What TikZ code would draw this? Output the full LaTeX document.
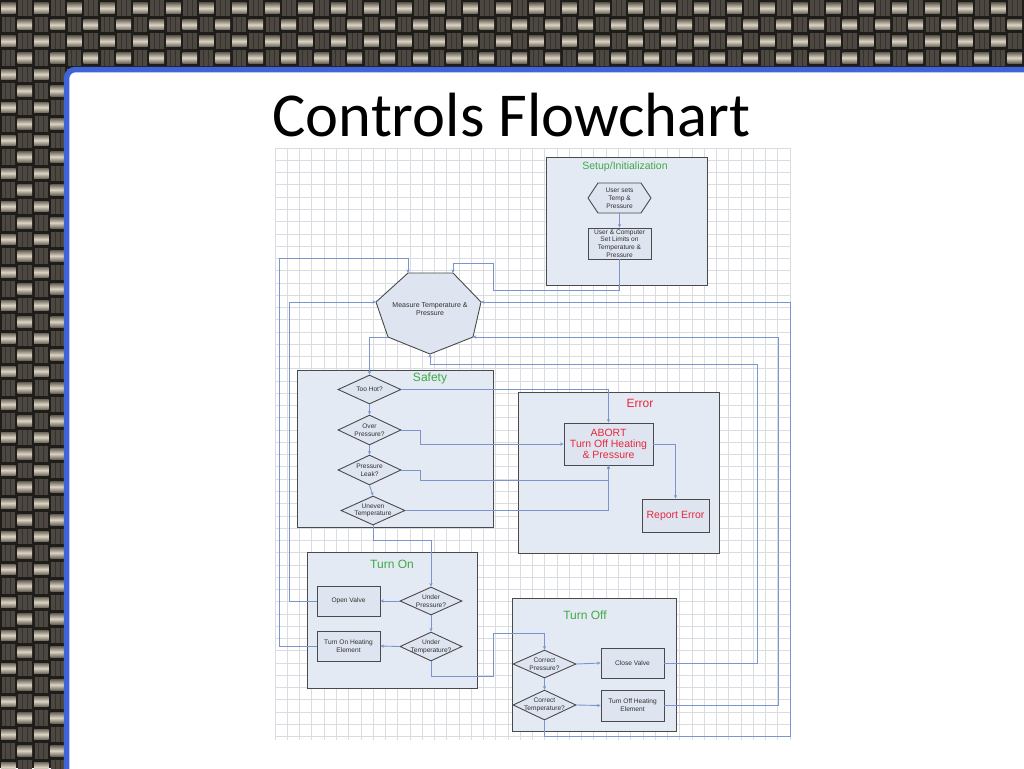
\documentclass[tikz,border=0pt]{standalone}
\usepackage{fontspec}
\setmainfont{Liberation Sans}
\newfontfamily\titlefont{Carlito}
\usetikzlibrary{arrows.meta,shapes.geometric}
\definecolor{weavebase}{HTML}{1F1D1A}
\definecolor{baredge}{HTML}{6E675C}
\definecolor{barmid}{HTML}{DCD4C4}
\definecolor{strandc}{HTML}{4C4740}
\definecolor{strandl}{HTML}{35312C}
\definecolor{slideblue}{HTML}{3F64D8}
\definecolor{gridc}{HTML}{D9DDE2}
\definecolor{groupfill}{HTML}{E4EAF4}
\definecolor{nodefill}{HTML}{DEE5F0}
\definecolor{edgec}{HTML}{4A4A4A}
\definecolor{connc}{HTML}{7B95CF}
\definecolor{titlegreen}{HTML}{3DAA45}
\definecolor{errred}{HTML}{E8283C}
\definecolor{textc}{HTML}{303030}
\newcommand\weavecell[2]{%
 \pgfmathsetmacro\wx{#1*16.5}\pgfmathsetmacro\wy{#2*16.5}%
 \pgfmathtruncatemacro\wp{mod(#1+#2,2)}%
 \ifnum\wp=0
   \shade[top color=baredge,bottom color=baredge,middle color=barmid] (\wx+1,\wy+3) rectangle (\wx+15.5,\wy+13.5);
 \else
   \fill[strandc] (\wx+1.5,\wy+0.5) rectangle (\wx+15,\wy+16);
   \draw[strandl,line width=0.6pt] (\wx+5.5,\wy+0.5) -- (\wx+5.5,\wy+16) (\wx+10.5,\wy+0.5) -- (\wx+10.5,\wy+16);
 \fi}
\tikzset{
 grpbox/.style={draw=edgec, fill=groupfill, line width=1pt, inner sep=0pt},
 grptitle/.style={font=\fontsize{12}{14}\selectfont, inner sep=0pt},
 procbox/.style={draw=edgec, fill=nodefill, line width=0.9pt, minimum width=63pt, minimum height=30pt, inner sep=1pt, align=center, font=\fontsize{6.6}{7.8}\selectfont, text=textc},
 dia/.style={diamond, draw=edgec, fill=nodefill, line width=0.9pt, inner sep=0pt, minimum width=63pt, minimum height=29pt},
 lbl/.style={inner sep=0pt, align=center, font=\fontsize{6.6}{7.8}\selectfont, text=textc},
 shapeline/.style={draw=edgec, fill=nodefill, line width=0.9pt, line join=round},
 conn/.style={draw=connc, line width=0.9pt, -{Stealth[length=3.5pt,width=3.2pt]}},
}
\begin{document}
\begin{tikzpicture}[x=1pt,y=-1pt]
\useasboundingbox (0,0) rectangle (1024,768);
\clip (0,0) rectangle (1024,768);
% woven background
\fill[weavebase] (0,0) rectangle (1024,768);
\foreach \j in {0,...,4}{\foreach \i in {0,...,62}{\weavecell{\i}{\j}}}
\foreach \j in {5,...,46}{\foreach \i in {0,...,4}{\weavecell{\i}{\j}}}
% slide panel
\draw[line width=5.5pt, draw=slideblue, fill=white, rounded corners=9pt] (66.5,69.5) rectangle (1045,790);
% grid
\foreach \k in {0,...,42}{\draw[gridc, line width=0.6pt] (275+\k*12.26,148) -- (275+\k*12.26,740);}
\foreach \k in {0,...,48}{\draw[gridc, line width=0.6pt] (275,148+\k*12.26) -- (790,148+\k*12.26);}
% title
\node[anchor=base, inner sep=0pt, font=\titlefont\fontsize{62.5}{72}\selectfont] (title) at (511.5,136) {Controls Flowchart};
% groups
\node[grpbox, minimum width=161pt, minimum height=128pt] (setup) at (626.5,221) {};
\node[grpbox, minimum width=196pt, minimum height=157pt] (safety) at (395,448.5) {};
\node[grpbox, minimum width=201pt, minimum height=161pt] (error) at (618.5,472.5) {};
\node[grpbox, minimum width=170pt, minimum height=136pt] (turnon) at (392,620) {};
\node[grpbox, minimum width=164pt, minimum height=133pt] (turnoff) at (594,664.5) {};
\node[grptitle, text=titlegreen, font=\fontsize{10.5}{12}\selectfont] (setupT) at (625,167) {Setup/Initialization};
\node[grptitle, text=titlegreen] (safetyT) at (430,378) {Safety};
\node[grptitle, text=errred] (errorT) at (640,403) {Error};
\node[grptitle, text=titlegreen] (turnonT) at (392,564) {Turn On};
\node[grptitle, text=titlegreen] (turnoffT) at (585,615) {Turn Off};
% setup shapes
\coordinate (hW) at (588,198); \coordinate (hNW) at (598,183); \coordinate (hNE) at (641,183);
\coordinate (hE) at (651,198); \coordinate (hSE) at (641,213); \coordinate (hSW) at (598,213);
\coordinate (hS) at (619.5,213);
\filldraw[shapeline] (hW) -- (hNW) -- (hNE) -- (hE) -- (hSE) -- (hSW) -- cycle;
\node[lbl] (usersets) at (619.5,198) {User sets\\Temp \&\\Pressure};
\node[procbox, minimum height=31pt] (limits) at (619.5,243.5) {User \& Computer\\Set Limits on\\Temperature \&\\Pressure};
% measure heptagon
\coordinate (m1) at (408,273); \coordinate (m2) at (453,273); \coordinate (m3) at (481,302);
\coordinate (m4) at (473,337); \coordinate (m5) at (430,354); \coordinate (m6) at (388,337);
\coordinate (m7) at (376,302);
\filldraw[shapeline] (m1) -- (m2) -- (m3) -- (m4) -- (m5) -- (m6) -- (m7) -- cycle;
\node[lbl, font=\fontsize{7}{8}\selectfont] (measure) at (430,309) {Measure Temperature \&\\Pressure};
% safety
\node[dia] (tohot) at (369.5,389.5) {};
\node[lbl] (tohotT) at (tohot) {Too Hot?};
\node[dia, minimum height=30pt] (overp) at (369.5,430) {};
\node[lbl] (overpT) at (overp) {Over\\Pressure?};
\node[dia, minimum height=30pt] (leak) at (369.5,470) {};
\node[lbl] (leakT) at (leak) {Pressure\\Leak?};
\node[dia, minimum width=64pt] (uneven) at (373,510.5) {};
\node[lbl] (unevenT) at (uneven) {Uneven\\Temperature};
% error
\node[procbox, minimum width=89pt, minimum height=42pt, text=errred, font=\fontsize{10.5}{10.8}\selectfont] (abort) at (608.5,444) {ABORT\\Turn Off Heating\\\& Pressure};
\node[procbox, minimum width=67pt, minimum height=33pt, text=errred, font=\fontsize{10.5}{12}\selectfont] (report) at (675.5,515.5) {Report Error};
% turn on
\node[procbox] (openvalve) at (348.5,601) {Open Valve};
\node[procbox] (turnonhe) at (348.5,646) {Turn On Heating\\Element};
\node[dia, minimum width=62pt, minimum height=28pt] (underp) at (431,601) {};
\node[lbl] (underpT) at (underp) {Under\\Pressure?};
\node[dia, minimum width=62pt] (undert) at (431,646.5) {};
\node[lbl] (undertT) at (undert) {Under\\Temperature?};
% turn off
\node[dia, minimum height=28pt] (corp) at (544.5,664) {};
\node[lbl] (corpT) at (corp) {Correct\\Pressure?};
\node[dia, minimum height=30pt] (cortemp) at (544.5,705) {};
\node[lbl] (cortempT) at (cortemp) {Correct\\Temperature?};
\node[procbox] (closevalve) at (632.5,663) {Close Valve};
\node[procbox, minimum height=31pt] (toffhe) at (632.5,705.5) {Turn Off Heating\\Element};
% connectors
\draw[conn] (hS) -- (limits.north);
\draw[conn] (limits.south) -- (619.5,290) -- (493,290) -- (493,263) -- (453,263) -- (m2);
\draw[conn] (turnonhe.west) -- (279,646) -- (279,258) -- (408,258) -- (m1);
\draw[conn] (openvalve.west) -- (289,601) -- (289,302) -- (m7);
\draw[conn] (cortemp.south) -- (544.5,736) -- (790,736) -- (790,302) -- (m3);
\draw[conn] (toffhe.east) -- (778,705.5) -- (778,337) -- (m4);
\draw[conn] (closevalve.east) -- (757,663) -- (757,364) -- (430,364) -- (m5);
\draw[conn] (m6) -- (369.5,337) -- (tohot.north);
\draw[conn] (tohot.south) -- (overp.north);
\draw[conn] (overp.south) -- (leak.north);
\draw[conn] (leak.south) -- (uneven.north);
\draw[conn] (uneven.south) -- (373,540) -- (431,540) -- (underp.north);
\draw[conn] (tohot.east) -- (608.5,389.5) -- (abort.north);
\draw[conn] (overp.east) -- (420,430) -- (420,444) -- (abort.west);
\draw[conn] (leak.east) -- (420,470) -- (420,480) -- (608.5,480) -- (abort.south);
\draw[conn] (uneven.east) -- (608.5,510.5) -- (abort.south);
\draw[conn] (abort.east) -- (675.5,444) -- (report.north);
\draw[conn] (underp.west) -- (openvalve.east);
\draw[conn] (underp.south) -- (undert.north);
\draw[conn] (undert.west) -- (turnonhe.east);
\draw[conn] (undert.south) -- (431,676) -- (493,676) -- (493,633) -- (544.5,633) -- (corp.north);
\draw[conn] (corp.east) -- (closevalve.west);
\draw[conn] (corp.south) -- (cortemp.north);
\draw[conn] (cortemp.east) -- (toffhe.west);
\end{tikzpicture}
\end{document}
